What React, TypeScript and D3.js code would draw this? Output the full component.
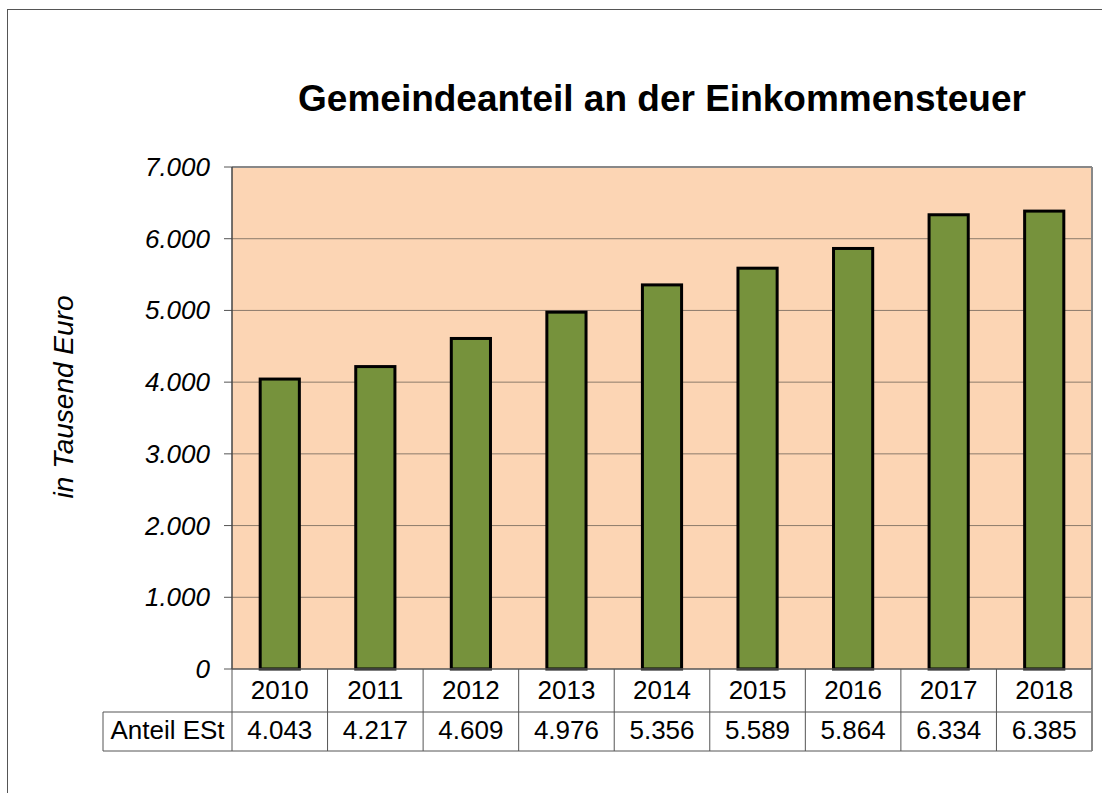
import React from "react";
import * as d3 from "d3";

const years = ["2010", "2011", "2012", "2013", "2014", "2015", "2016", "2017", "2018"];
const anteilESt = [4043, 4217, 4609, 4976, 5356, 5589, 5864, 6334, 6385];
const yTicks = [0, 1000, 2000, 3000, 4000, 5000, 6000, 7000];
const seriesName = "Anteil ESt";

const fmt = (v: number) => (v === 0 ? "0" : d3.format(",")(v).replace(/,/g, "."));

export default function App() {
    const width = 1102;
    const height = 793;
    const plot = { left: 232, right: 1092, top: 167, bottom: 669 };
    const rowH = [43, 39];
    const headerLeft = 103;

    const x = d3.scaleBand().domain(years).range([plot.left, plot.right]).paddingInner(0).paddingOuter(0);
    const y = d3.scaleLinear().domain([0, 7000]).range([plot.bottom, plot.top]);
    const barW = x.bandwidth() * 0.41;

    const row1Bottom = plot.bottom + rowH[0];
    const row2Bottom = row1Bottom + rowH[1];
    const font = "'Liberation Sans', Arial, sans-serif";

    return (
        <svg width={width} height={height} style={{ position: "absolute", left: 0, top: 0, background: "#fff" }}>
            {/* outer chart border */}
            <rect x={7.5} y={9.5} width={width + 20} height={height + 20} fill="none" stroke="#555" strokeWidth={1} />

            <text x={(plot.left + plot.right) / 2} y={111} textAnchor="middle" fontFamily={font} fontWeight="bold" fontSize={37} fill="#000">
                Gemeindeanteil an der Einkommensteuer
            </text>

            <rect x={plot.left} y={plot.top} width={plot.right - plot.left} height={plot.bottom - plot.top} fill="#FCD5B4" />

            {yTicks.map((t) => (
                <g key={t}>
                    {t > 0 && t < 7000 && (
                        <line x1={plot.left} x2={plot.right} y1={y(t)} y2={y(t)} stroke="#8C7B6B" strokeWidth={1} />
                    )}
                    <line x1={plot.left - 8} x2={plot.left} y1={y(t)} y2={y(t)} stroke="#555" strokeWidth={1} />
                    <text x={plot.left - 22} y={y(t) + 9} textAnchor="end" fontFamily={font} fontStyle="italic" fontSize={26} fill="#000">
                        {fmt(t)}
                    </text>
                </g>
            ))}

            {/* plot border */}
            <line x1={plot.left} x2={plot.right} y1={plot.top} y2={plot.top} stroke="#888" strokeWidth={2} />
            <line x1={plot.right} x2={plot.right} y1={plot.top} y2={plot.bottom} stroke="#888" strokeWidth={2} />
            <line x1={plot.left} x2={plot.left} y1={plot.top} y2={plot.bottom} stroke="#444" strokeWidth={1.5} />

            {years.map((yr, i) => {
                const cx = (x(yr) as number) + x.bandwidth() / 2;
                return (
                    <rect key={yr} x={cx - barW / 2} y={y(anteilESt[i])} width={barW} height={plot.bottom - y(anteilESt[i])}
                        fill="#76923C" stroke="#000" strokeWidth={3} />
                );
            })}

            {/* data table */}
            <line x1={plot.left} x2={plot.right} y1={plot.bottom} y2={plot.bottom} stroke="#555" strokeWidth={1.5} />
            <line x1={headerLeft} x2={plot.right} y1={row1Bottom} y2={row1Bottom} stroke="#555" strokeWidth={1} />
            <line x1={headerLeft} x2={plot.right} y1={row2Bottom} y2={row2Bottom} stroke="#555" strokeWidth={1} />
            <line x1={headerLeft} x2={headerLeft} y1={row1Bottom} y2={row2Bottom} stroke="#555" strokeWidth={1} />
            <line x1={plot.left} x2={plot.left} y1={plot.bottom} y2={row2Bottom} stroke="#555" strokeWidth={1} />
            {years.map((yr) => (
                <line key={yr} x1={(x(yr) as number) + x.bandwidth()} x2={(x(yr) as number) + x.bandwidth()}
                    y1={plot.bottom} y2={row2Bottom} stroke={yr === "2018" ? "#888" : "#555"} strokeWidth={yr === "2018" ? 2 : 1} />
            ))}
            {years.map((yr, i) => {
                const cx = (x(yr) as number) + x.bandwidth() / 2;
                return (
                    <g key={yr}>
                        <text x={cx} y={plot.bottom + 30} textAnchor="middle" fontFamily={font} fontSize={26} fill="#000">{yr}</text>
                        <text x={cx} y={row1Bottom + 27} textAnchor="middle" fontFamily={font} fontSize={26} fill="#000">{fmt(anteilESt[i])}</text>
                    </g>
                );
            })}
            <text x={(headerLeft + plot.left) / 2} y={row1Bottom + 27} textAnchor="middle" fontFamily={font} fontSize={26} fill="#000">{seriesName}</text>

            <text transform={`translate(73, 397) rotate(-90)`} textAnchor="middle" fontFamily={font} fontStyle="italic" fontSize={28} fill="#000">
                in Tausend Euro
            </text>
        </svg>
    );
}
